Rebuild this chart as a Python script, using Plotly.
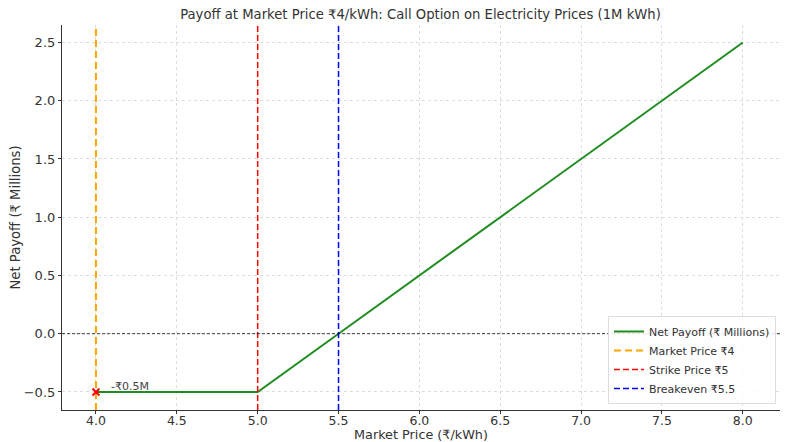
import plotly.graph_objects as go

# Data
price = [4.0, 5.0, 5.5, 8.0]
net_payoff = [-0.5, -0.5, 0.0, 2.5]
market_price = 4.0
strike_price = 5.0
breakeven = 5.5
marker_x = [4.0]
marker_y = [-0.5]
x_ticks = [4.0, 4.5, 5.0, 5.5, 6.0, 6.5, 7.0, 7.5, 8.0]
y_ticks = [-0.5, 0.0, 0.5, 1.0, 1.5, 2.0, 2.5]

FONT = "DejaVu Sans, Noto Sans, sans-serif"
y_range = [-0.655, 2.65]

# page body has an 8px margin, so the figure is sized to fit the remaining window
W, H = 781, 434

fig = go.Figure()
fig.add_trace(go.Scatter(x=price, y=net_payoff, mode="lines", name="Net Payoff (₹ Millions)",
                         line=dict(color="#1f8c1f", width=2)))
fig.add_trace(go.Scatter(x=[market_price, market_price], y=y_range, mode="lines", name="Market Price ₹4",
                         line=dict(color="orange", width=2, dash="7px,4px")))
fig.add_trace(go.Scatter(x=[strike_price, strike_price], y=y_range, mode="lines", name="Strike Price ₹5",
                         line=dict(color="red", width=1.5, dash="6px,3px")))
fig.add_trace(go.Scatter(x=[breakeven, breakeven], y=y_range, mode="lines", name="Breakeven ₹5.5",
                         line=dict(color="blue", width=1.5, dash="6px,3px")))
fig.add_trace(go.Scatter(x=marker_x, y=marker_y, mode="markers", showlegend=False,
                         marker=dict(symbol="x-thin", size=7, color="red", line=dict(color="red", width=2))))

fig.add_hline(y=0, line=dict(color="rgba(0,0,0,0.75)", width=1, dash="3px,2px"))

fig.add_annotation(x=4.1, y=-0.5, text="-₹0.5M", showarrow=False, xanchor="left", yanchor="bottom",
                   font=dict(family=FONT, size=11, color="#444"), xshift=-3, yshift=-3)

fig.update_layout(
    width=W, height=H,
    margin=dict(l=54, r=9, t=17, b=32, autoexpand=False),
    paper_bgcolor="white", plot_bgcolor="white",
    font=dict(family=FONT, size=13, color="#333"),
    title=dict(text="Payoff at Market Price ₹4/kWh: Call Option on Electricity Prices (1M kWh)",
               x=412.5 / W, xref="container", xanchor="center", y=1 - 6 / H, yref="container",
               yanchor="middle", font=dict(size=13.2, color="#333")),
    legend=dict(x=0.9944, y=0.0156, xanchor="right", yanchor="bottom",
                bgcolor="rgba(255,255,255,0.85)", bordercolor="#ddd", borderwidth=1,
                font=dict(size=11, color="#333"), tracegroupgap=0, itemwidth=30),
    showlegend=True,
)
fig.update_xaxes(range=[3.79, 8.23], tickvals=x_ticks, ticktext=[f"{v:.1f}" for v in x_ticks],
                 showgrid=True, gridcolor="#ddd", griddash="dot", gridwidth=1,
                 showline=True, linecolor="#333", linewidth=1.2, ticks="outside", ticklen=3,
                 tickcolor="#333", zeroline=False, tickfont=dict(size=12.5), ticklabelstandoff=-4,
                 title=dict(text="Market Price (₹/kWh)", font=dict(size=12.8), standoff=3))
fig.update_yaxes(range=y_range, tickvals=y_ticks, ticktext=[f"{v:.1f}".replace("-", "−") for v in y_ticks],
                 showgrid=True, gridcolor="#ddd", griddash="dot", gridwidth=1,
                 showline=True, linecolor="#333", linewidth=1.2, ticks="outside", ticklen=3,
                 tickcolor="#333", zeroline=False, tickfont=dict(size=13),
                 title=dict(text="Net Payoff (₹ Millions)", font=dict(size=13.2), standoff=6))

fig.write_html("out.html")
